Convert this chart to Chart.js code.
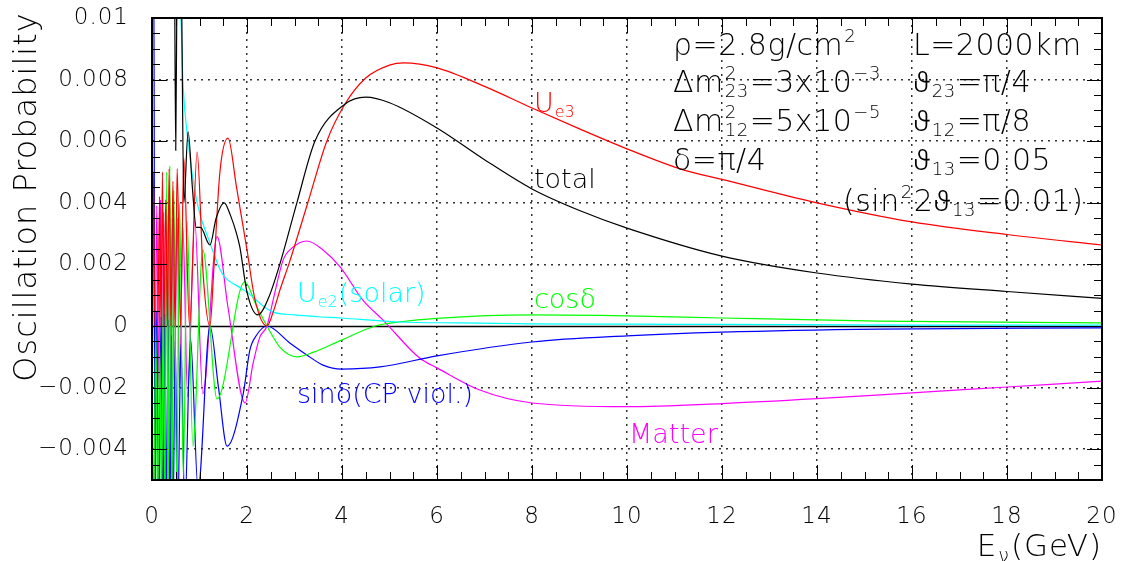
<!DOCTYPE html>
<html>
<head>
<meta charset="utf-8">
<script src="https://cdn.jsdelivr.net/npm/chart.js@4.4.1/dist/chart.umd.min.js"></script>
<style>
  html, body { margin: 0; padding: 0; background: #fff; }
  #wrap { width: 1122px; height: 561px; position: relative; }
</style>
</head>
<body>
<div id="wrap"><canvas id="chart"></canvas></div>
<script>
// neutrino energy in GeV, probabilities in units of 1e-3

// U_e3 term (red)
const ue3E = [0, 0.03, 0.06, 0.12, 0.16, 0.19, 0.22, 0.25, 0.29, 0.325,
  0.36, 0.40, 0.44, 0.485, 0.53, 0.60, 0.67, 0.79, 0.95, 1.08,
  1.22, 1.3, 1.43, 1.6, 1.78, 2, 2.17, 2.42, 2.55, 2.7,
  2.9, 3.28, 3.68, 4.06, 4.5, 5, 5.3, 6, 7, 8,
  9, 10, 11.2, 12, 14, 16, 18, 20];
const ue3P = [0.5, 5.0, 0, 0, 4.2, 0, 5.0, 0, 4.1, 0,
  5.1, 0, 4.7, 0, 5.1, 0, 5.45, 0, 5.65, 1.6,
  0, 1.8, 5.0, 6.1, 4.5, 2.47, 0.84, 0, 0.45, 1.2,
  2.1, 4.0, 6.0, 7.2, 8.05, 8.47, 8.54, 8.38, 7.78, 7.08,
  6.4, 5.75, 5.06, 4.76, 4.0, 3.38, 2.97, 2.63];

// total (black)
const totalE = [0.40, 0.47, 0.50, 0.53, 0.58, 0.62, 0.67, 0.76, 0.85, 0.93,
  1.02, 1.22, 1.35, 1.52, 1.65, 1.78, 1.85, 2.0, 2.23, 2.45,
  2.69, 3.05, 3.43, 4.06, 4.5, 5.0, 6, 7, 8, 9,
  10, 12, 14, 16, 18, 20];
const totalP = [12.5, 12.0, 5.7, 12.0, 13.0, 11.0, 4.0, 6.3, 4.5, 3.2,
  3.2, 2.63, 3.5, 4.0, 3.6, 3.0, 2.56, 1.1, 0.36, 0.9,
  2.0, 4.0, 6.0, 7.2, 7.43, 7.25, 6.43, 5.4, 4.45, 3.75,
  3.18, 2.27, 1.72, 1.36, 1.12, 0.9];

// U_e2 solar term (cyan)
const ue2E = [0, 0.01, 0.55, 0.61, 0.65, 0.76, 0.95, 1.22, 1.47, 1.85,
  2.0, 2.3, 2.55, 3.0, 3.5, 3.96, 5.2, 6.5, 8, 10,
  12, 16, 20];
const ue2P = [-8, 15, 12, 10, 8, 6, 4.0, 2.7, 1.72, 1.25,
  1.1, 0.7, 0.45, 0.36, 0.3, 0.26, 0.13, 0.1, 0.07, 0.06,
  0.05, 0.03, 0.03];

// cos(delta) term (green)
const cosE = [0, 0.04, 0.08, 0.12, 0.16, 0.20, 0.24, 0.27, 0.31, 0.34,
  0.375, 0.42, 0.46, 0.52, 0.58, 0.66, 0.74, 0.86, 1.07, 1.37,
  1.95, 2.2, 2.42, 2.7, 3.05, 3.4, 4.0, 4.7, 5.2, 6,
  8, 10, 12, 15.3, 20];
const cosP = [-1, -6, 0, -6, -0.5, -6, 1.5, -6, 5.0, -6,
  5.2, -6, 4.4, -5.6, 4.0, -4.9, 3.4, -3.9, 2.47, -2.37,
  1.43, 0.65, 0, -0.7, -1.0, -0.85, -0.45, 0, 0.13, 0.25,
  0.36, 0.33, 0.26, 0.16, 0.1];

// sin(delta) CP violating term (blue)
const sinE = [0, 0.015, 0.04, 0.06, 0.10, 0.14, 0.19, 0.23, 0.27, 0.30,
  0.34, 0.375, 0.41, 0.44, 0.49, 0.54, 0.61, 0.69, 0.81, 0.97,
  1.22, 1.4, 1.58, 1.92, 2.06, 2.2, 2.42, 2.9, 3.26, 3.6,
  4.0, 4.8, 6, 8, 10, 12, 15.3, 20];
const sinP = [-6, 12, 12, -6.5, 0.5, -6.5, 0.3, -6.5, 0.4, -6.5,
  0.2, -6.5, -0.3, -6.5, -0.5, -6.5, -0.6, -6, -0.4, -5.3,
  0, -2.0, -3.9, -2.2, -0.78, -0.3, 0, -0.55, -0.94, -1.27,
  -1.4, -1.33, -0.97, -0.52, -0.32, -0.2, -0.1, -0.06];

// matter term (magenta)
const matE = [0, 0.03, 0.06, 0.10, 0.14, 0.18, 0.21, 0.245, 0.275, 0.31,
  0.34, 0.37, 0.40, 0.43, 0.47, 0.53, 0.58, 0.65, 0.75, 0.9,
  1.07, 1.37, 1.6, 1.96, 2.13, 2.27, 2.42, 2.55, 2.76, 2.97,
  3.26, 3.6, 3.96, 4.44, 4.86, 5.64, 6.0, 6.9, 8, 10,
  12, 14, 16, 18, 20];
const matP = [-2.2, 4.7, -2.3, 3.9, -2.0, 4.1, -2.4, 3.7, -2.2, 3.6,
  -2.4, 3.7, -2.3, 3.5, -2.2, 3.5, -2.0, 3.2, -2.3, 3.4,
  -2.2, 2.9, 0.6, -2.5, -1.2, -0.36, 0, 0.84, 2.14, 2.56,
  2.76, 2.47, 1.92, 0.84, 0.2, -1.05, -1.36, -2.08, -2.5, -2.62,
  -2.52, -2.36, -2.17, -1.98, -1.79];

const xTicks = [0, 2, 4, 6, 8, 10, 12, 14, 16, 18, 20];
const xTickLabels = ['0', '2', '4', '6', '8', '10', '12', '14', '16', '18', '20'];
const yTicks = [-0.004, -0.002, 0, 0.002, 0.004, 0.006, 0.008, 0.01];
const yTickLabels = ['\u22120.004', '\u22120.002', '0', '0.002', '0.004', '0.006', '0.008', '0.01'];

const FONT = '"DejaVu Sans", sans-serif';
const WEIGHT = 200;
// the light DejaVu face has no \u03d1, try a light face that does
const THETA_FONT = 'Roboto, "Noto Sans", "DejaVu Sans", sans-serif';

function toPoints(es, ps) {
  return es.map((e, i) => ({ x: e, y: ps[i] * 1e-3 }));
}

function drawRun(ctx, str, x, y, size, draw) {
  for (const piece of str.split(/(\u03d1)/)) {
    if (!piece) continue;
    ctx.font = piece === '\u03d1'
      ? '300 ' + size + 'px ' + THETA_FONT
      : WEIGHT + ' ' + size + 'px ' + FONT;
    if (draw) ctx.fillText(piece, x, y);
    x += ctx.measureText(piece).width;
  }
  return x;
}

// draws text with ROOT-like sub/superscripts, returns end x
function drawRich(ctx, parts, x, y, size, draw) {
  for (const p of parts) {
    if (typeof p === 'string') {
      x = drawRun(ctx, p, x, y, size, draw);
    } else {
      const s = Math.round(size * 0.6);
      let w = 0;
      if (p.sup) w = Math.max(w, drawRun(ctx, p.sup, x + 1, y - size * 0.43, s, draw) - x - 1);
      if (p.sub) w = Math.max(w, drawRun(ctx, p.sub, x + 1, y + size * 0.18, s, draw) - x - 1);
      x += w + 2;
    }
  }
  return x;
}

const curveLabels = [
  { parts: ['U', { sub: 'e3' }], x: 534, y: 112, size: 27, color: '#ff0000' },
  { parts: ['total'], x: 534, y: 188, size: 27, color: '#000000' },
  { parts: ['U', { sub: 'e2' }, '(solar)'], x: 297, y: 302, size: 27, color: '#00ffff' },
  { parts: ['cos\u03b4'], x: 534, y: 308, size: 27, color: '#00ff00' },
  { parts: ['sin\u03b4(CP viol.)'], x: 297, y: 403, size: 27, color: '#0000ff' },
  { parts: ['Matter'], x: 629, y: 443, size: 27, color: '#ff00ff' }
];

const paramText = [
  { parts: ['\u03c1=2.8g/cm', { sup: '2' }], x: 673, y: 55 },
  { parts: ['L=2000km'], x: 913, y: 55 },
  { parts: ['\u0394m', { sup: '2', sub: '23' }, '=3x10', { sup: '\u22123' }], x: 673, y: 92 },
  { parts: ['\u03d1', { sub: '23' }, '=\u03c0/4'], x: 913, y: 92 },
  { parts: ['\u0394m', { sup: '2', sub: '12' }, '=5x10', { sup: '\u22125' }], x: 673, y: 131 },
  { parts: ['\u03d1', { sub: '12' }, '=\u03c0/8'], x: 913, y: 131 },
  { parts: ['\u03b4=\u03c0/4'], x: 673, y: 170 },
  { parts: ['\u03d1', { sub: '13' }, '=0.05'], x: 913, y: 170 },
  { parts: ['(sin', { sup: '2' }, '2\u03d1', { sub: '13' }, '=0.01)'], x: 843, y: 211 }
];

const rootFrame = {
  id: 'rootFrame',
  beforeDraw(chart) {
    const c = chart.ctx;
    c.save();
    c.fillStyle = '#ffffff';
    c.fillRect(0, 0, chart.width, chart.height);
    c.restore();
    c.letterSpacing = '1px';
  },
  beforeDatasetsDraw(chart) {
    const { ctx, chartArea: a, scales: { y } } = chart;
    const py = Math.round(y.getPixelForValue(0)) + 0.5;
    ctx.save();
    ctx.strokeStyle = '#000';
    ctx.lineWidth = 1.5;
    ctx.beginPath();
    ctx.moveTo(a.left, py);
    ctx.lineTo(a.right, py);
    ctx.stroke();
    ctx.restore();
  },
  afterDatasetsDraw(chart) {
    const { ctx, chartArea: a, scales: { x, y } } = chart;
    ctx.save();
    ctx.letterSpacing = '0px';
    ctx.textAlign = 'left';
    ctx.textBaseline = 'alphabetic';

    // curve labels
    for (const l of curveLabels) {
      ctx.fillStyle = l.color;
      drawRich(ctx, l.parts, l.x, l.y, l.size, true);
    }
    // parameter block
    ctx.fillStyle = '#000';
    ctx.letterSpacing = '0.5px';
    for (const t of paramText) drawRich(ctx, t.parts, t.x, t.y, 30, true);

    // frame
    ctx.strokeStyle = '#000';
    ctx.lineWidth = 2;
    ctx.strokeRect(a.left, a.top, a.right - a.left, a.bottom - a.top);

    // inward tick marks on all four sides
    ctx.lineWidth = 1;
    ctx.beginPath();
    for (let k = 0; k <= 40; k++) {
      const px = Math.round(x.getPixelForValue(k * 0.5)) + 0.5;
      const len = k % 4 === 0 ? 15 : 8;
      ctx.moveTo(px, a.bottom); ctx.lineTo(px, a.bottom - len);
      ctx.moveTo(px, a.top); ctx.lineTo(px, a.top + len);
    }
    for (let k = -10; k <= 20; k++) {
      const py = Math.round(y.getPixelForValue(k * 0.0005)) + 0.5;
      const len = k % 4 === 0 ? 15 : 8;
      ctx.moveTo(a.left, py); ctx.lineTo(a.left + len, py);
      ctx.moveTo(a.right, py); ctx.lineTo(a.right - len, py);
    }
    ctx.stroke();

    // axis titles
    ctx.letterSpacing = '1px';
    ctx.fillStyle = '#000';
    ctx.save();
    ctx.translate(28, 197);
    ctx.rotate(-Math.PI / 2);
    ctx.font = WEIGHT + ' 32px ' + FONT;
    ctx.textAlign = 'center';
    ctx.textBaseline = 'middle';
    ctx.fillText('Oscillation Probability', 0, 0);
    ctx.restore();

    const xTitle = ['E', { sub: '\u03bd' }, '(GeV)'];
    const w = drawRich(ctx, xTitle, 0, 0, 31, false);
    drawRich(ctx, xTitle, 1102 - w, 556, 31, true);
    ctx.restore();
  }
};

function gridColor(edgeValues) {
  return (c) => {
    const v = c.tick ? c.tick.value : null;
    if (v === null || edgeValues.some(e => Math.abs(e - v) < 1e-9)) return 'rgba(0,0,0,0)';
    return '#333333';
  };
}

// keep tick labels from pushing the plot frame inward
function noLabelPadding(s) {
  s.paddingTop = 0;
  s.paddingBottom = 0;
  s.paddingLeft = 0;
  s.paddingRight = 0;
}

new Chart(document.getElementById('chart'), {
  type: 'line',
  data: {
    datasets: [
      { label: 'total', data: toPoints(totalE, totalP), borderColor: '#000000' },
      { label: 'Ue3', data: toPoints(ue3E, ue3P), borderColor: '#ff0000' },
      { label: 'Ue2 (solar)', data: toPoints(ue2E, ue2P), borderColor: '#00ffff' },
      { label: 'cos delta', data: toPoints(cosE, cosP), borderColor: '#00ff00' },
      { label: 'sin delta', data: toPoints(sinE, sinP), borderColor: '#0000ff' },
      { label: 'Matter', data: toPoints(matE, matP), borderColor: '#ff00ff' }
    ]
  },
  options: {
    animation: false,
    responsive: true,
    maintainAspectRatio: false,
    layout: { padding: { top: 18, right: 20, left: 0, bottom: 0 } },
    elements: {
      point: { radius: 0 },
      line: { borderWidth: 1.2, cubicInterpolationMode: 'monotone', fill: false }
    },
    plugins: { legend: { display: false }, tooltip: { enabled: false } },
    scales: {
      x: {
        type: 'linear',
        min: 0,
        max: 20,
        afterBuildTicks: (s) => { s.ticks = xTicks.map(v => ({ value: v })); },
        afterFit: (s) => { s.height = 81; noLabelPadding(s); },
        ticks: {
          callback: (v, i) => xTickLabels[i],
          font: { family: FONT, size: 23, weight: WEIGHT },
          color: '#000',
          padding: 23,
          maxRotation: 0,
          autoSkip: false
        },
        grid: { color: gridColor([0, 20]), lineWidth: 1.5, drawTicks: false },
        border: { display: false, dash: [2, 5] }
      },
      y: {
        type: 'linear',
        min: -0.005,
        max: 0.01,
        afterBuildTicks: (s) => { s.ticks = yTicks.map(v => ({ value: v })); },
        afterFit: (s) => { s.width = 152; noLabelPadding(s); },
        ticks: {
          callback: (v, i) => yTickLabels[i],
          font: { family: FONT, size: 23, weight: WEIGHT },
          color: '#000',
          padding: 23,
          autoSkip: false
        },
        grid: { color: gridColor([0, 0.01]), lineWidth: 1.5, drawTicks: false },
        border: { display: false, dash: [2, 5] }
      }
    }
  },
  plugins: [rootFrame]
});
</script>
</body>
</html>
